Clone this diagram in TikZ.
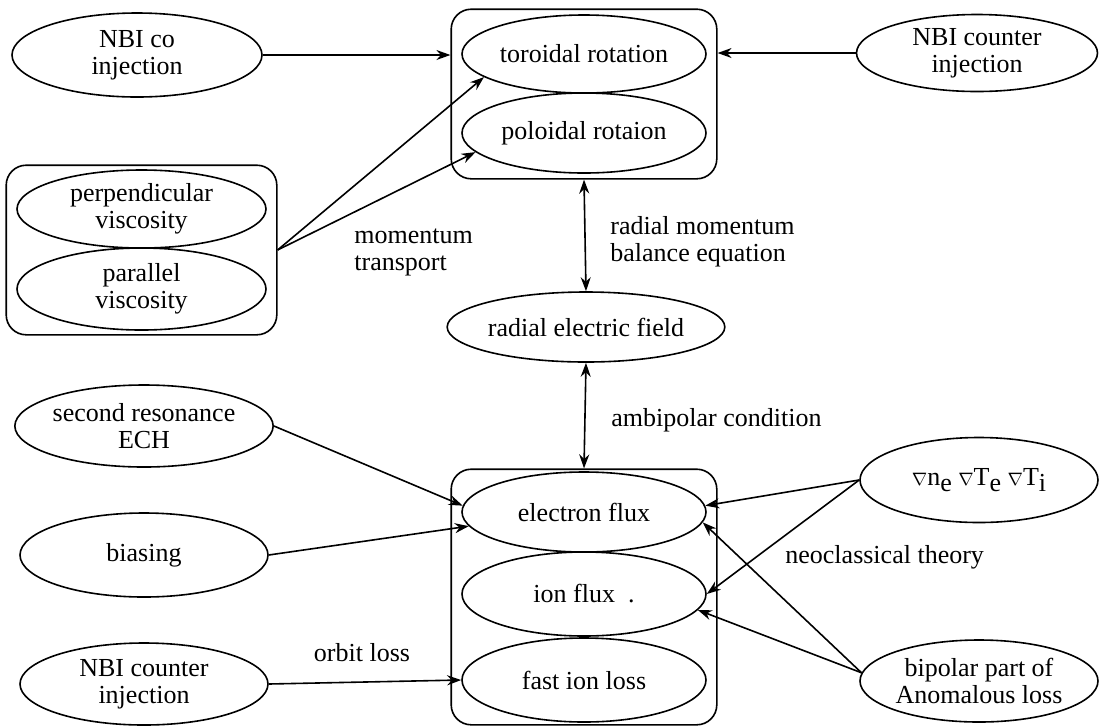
\documentclass[tikz,border=0pt]{standalone}
\usepackage{fontspec}
\setmainfont{Liberation Serif}
\usetikzlibrary{arrows.meta,shapes.geometric,fit}

\begin{document}
\begin{tikzpicture}[
x=0.5pt,y=-0.5pt,
font=\fontsize{13}{13.5}\selectfont,
oval/.style={draw,ellipse,line width=0.8pt,inner sep=0pt,align=center},
groupbox/.style={draw,rounded corners=10pt,line width=0.8pt},
link/.style={->,line width=0.8pt,>={Stealth[length=7pt,width=5pt]}},
both/.style={<->,line width=0.8pt,>={Stealth[length=7pt,width=5pt]}},
note/.style={anchor=west,align=left,inner sep=0pt}]
    \useasboundingbox (0,0) rectangle (1099,725);

    % Rotation group
    \node[oval,minimum width=122pt,minimum height=39pt] (tor) at (584,54) {toroidal rotation};
    \node[oval,minimum width=122pt,minimum height=40pt] (pol) at (584,133) {poloidal rotaion};
    \node[groupbox,fit=(tor)(pol),inner xsep=5pt,inner ysep=2.5pt] (topbox) {};

    \node[oval,minimum width=125pt,minimum height=42pt] (nbico) at (137,55) {NBI co\\injection};
    \node[oval,minimum width=120.5pt,minimum height=38.5pt] (nbicnt) at (977,53) {NBI counter\\injection};

    % Viscosity group
    \node[oval,minimum width=124.5pt,minimum height=39pt] (perp) at (141.5,209) {perpendicular\\viscosity};
    \node[oval,minimum width=124.5pt,minimum height=41pt] (para) at (141.5,289) {parallel\\viscosity};
    \node[groupbox,fit=(perp)(para),inner xsep=5pt,inner ysep=2pt] (visc) {};

    \node[oval,minimum width=122pt,minimum height=35pt] (rad) at (586,327) {radial electric field};

    % Flux group
    \node[oval,minimum width=122pt,minimum height=40pt] (elec) at (584,512) {electron flux};
    \node[oval,minimum width=122pt,minimum height=42pt] (ion) at (584,594) {ion flux\ \ .};
    \node[oval,minimum width=122pt,minimum height=42pt] (fast) at (584,680) {fast ion loss};
    \node[groupbox,fit=(elec)(fast),inner xsep=5pt,inner ysep=1pt] (botbox) {};

    \node[oval,minimum width=124pt,minimum height=41pt] (ech) at (144,426) {second resonance\\ECH};
    \node[oval,minimum width=124pt,minimum height=42pt] (bias) at (144,555) {biasing};
    \node[oval,minimum width=124pt,minimum height=41pt] (nbibot) at (144,684) {NBI counter\\injection};

    \node[oval,minimum width=119pt,minimum height=42.5pt] (grad) at (979,480)
        {{\small$\nabla$}n\raisebox{-0.55ex}{e}\ {\small$\nabla$}T\raisebox{-0.55ex}{e}\ {\small$\nabla$}T\raisebox{-0.55ex}{i}};
    \node[oval,minimum width=119pt,minimum height=41pt] (bip) at (979,681) {bipolar part of\\Anomalous loss};

    % Labels
    \node[note] (mtlabel) at (354,252) {momentum\\transport};
    \node[note] (rmlabel) at (610,242) {radial momentum\\balance equation};
    \node[note] (amlabel) at (611,420) {ambipolar condition};
    \node[note] (nclabel) at (785,557) {neoclassical theory};
    \node (ollabel) at (362,653) {orbit loss};

    % Connectors
    \draw[link] (nbico.east) -- (nbico.east -| topbox.west);
    \draw[link] (nbicnt.west) -- (nbicnt.west -| topbox.east);
    \draw[link] (visc.east) -- (tor.193);
    \draw[link] (visc.east) -- (pol.190);
    \draw[both] (topbox.south) -- (rad.north);
    \draw[both] (rad.south) -- (botbox.north);
    \draw[link] (ech.east) -- (elec.177);
    \draw[link] (bias.east) -- (elec.187);
    \draw[link] (nbibot.east) -- (fast.west);
    \draw[link] (grad.west) -- (elec.3);
    \draw[link] (grad.west) -- (ion.east);
    \draw[link] (bip.176) -- (elec.-5);
    \draw[link] (bip.176) -- (ion.-8);

\end{tikzpicture}
\end{document}
